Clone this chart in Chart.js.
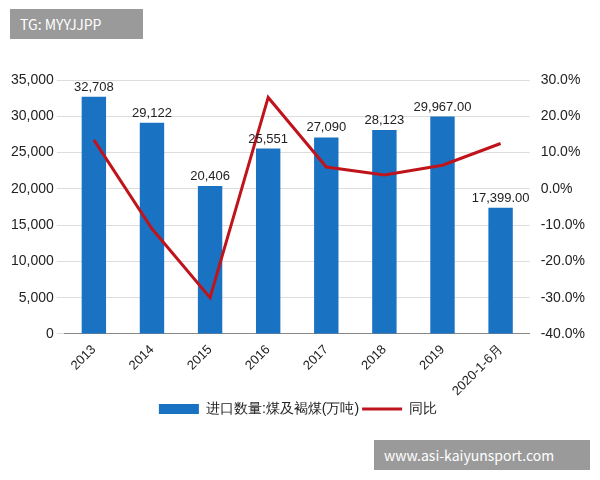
<!DOCTYPE html>
<html>
<head>
<meta charset="utf-8">
<script src="https://cdn.jsdelivr.net/npm/chart.js@4"></script>
<style>
  body { margin: 0; background: #fff; font-family: "Noto Sans CJK SC", "Liberation Sans", sans-serif; }
  #wrap { position: relative; width: 600px; height: 480px; }
  .mark { position: absolute; background: #9a9a9a; color: #fff; font-size: 14px; padding: 5px 10px; }
</style>
</head>
<body>
<div id="wrap">
  <canvas id="c" width="600" height="480"></canvas>
  <div class="mark" style="left:10px;top:9px;width:113px;">TG: MYYJJPP</div>
  <div class="mark" style="left:374px;top:440px;width:196px;">www.asi-kaiyunsport.com</div>
</div>
<script>
const years = ['2013', '2014', '2015', '2016', '2017', '2018', '2019', '2020-1-6月'];
const imports = [32708, 29122, 20406, 25551, 27090, 28123, 29967, 17399];
const importLabels = ['32,708', '29,122', '20,406', '25,551', '27,090', '28,123', '29,967.00', '17,399.00'];
const yoy = [13.5, -11, -30, 25.2, 6, 3.8, 6.5, 12.5];

const barLabels = {
  id: 'barLabels',
  afterDatasetsDraw(chart) {
    const ctx = chart.ctx;
    const meta = chart.getDatasetMeta(1);
    ctx.save();
    ctx.font = '13px "Liberation Sans", sans-serif';
    ctx.fillStyle = '#222';
    ctx.textAlign = 'center';
    ctx.textBaseline = 'bottom';
    meta.data.forEach((bar, i) => ctx.fillText(importLabels[i], bar.x, bar.y - 3));
    ctx.restore();
  }
};

new Chart(document.getElementById('c'), {
  data: {
    labels: years,
    datasets: [
      {
        type: 'line', label: '同比', data: yoy, yAxisID: 'y1',
        borderColor: '#c0141c', backgroundColor: '#c0141c', borderWidth: 3,
        pointRadius: 0, pointStyle: 'line', tension: 0, order: 0
      },
      {
        type: 'bar', label: '进口数量:煤及褐煤(万吨)', data: imports, yAxisID: 'y',
        backgroundColor: '#1a72c2', pointStyle: 'rect', barPercentage: 0.42, categoryPercentage: 1, order: 1
      }
    ]
  },
  options: {
    responsive: false,
    animation: false,
    layout: { padding: { left: 8, right: 12, top: 80, bottom: 54 } },
    scales: {
      x: {
        grid: { display: false },
        border: { color: '#888' },
        ticks: { color: '#222', font: { size: 13 }, maxRotation: 45, minRotation: 45, padding: 0 }
      },
      y: {
        min: 0, max: 35000,
        ticks: { stepSize: 5000, color: '#222', font: { size: 14 }, callback: v => v.toLocaleString('en-US') },
        grid: { color: '#ddd' },
        border: { display: false }
      },
      y1: {
        position: 'right', min: -40, max: 30,
        ticks: { stepSize: 10, color: '#222', font: { size: 14 }, callback: v => v.toFixed(1) + '%' },
        grid: { display: false },
        border: { display: false }
      }
    },
    plugins: {
      legend: {
        position: 'bottom', reverse: true,
        labels: { color: '#222', font: { size: 14 }, usePointStyle: true, pointStyleWidth: 40, boxHeight: 10, padding: 3 }
      },
      tooltip: { enabled: false }
    }
  },
  plugins: [barLabels]
});
</script>
</body>
</html>
